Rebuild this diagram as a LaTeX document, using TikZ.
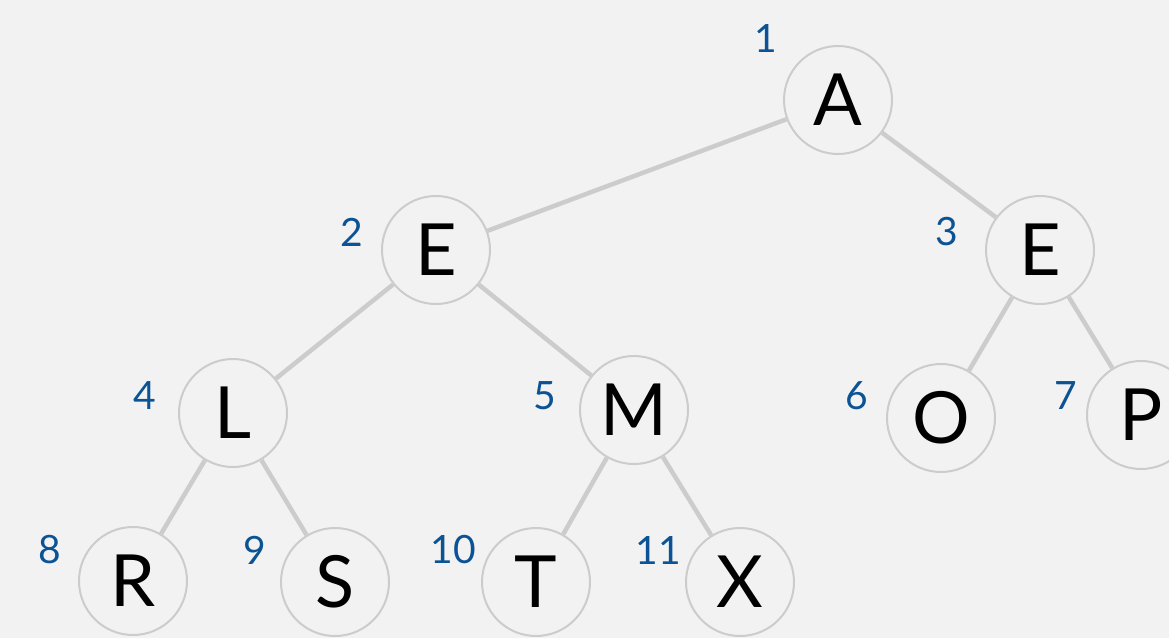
\documentclass[tikz,border=0pt]{standalone}
\usepackage{fontspec}
\setmainfont{Lato}
\usepackage{tikz}
\definecolor{bgc}{HTML}{F2F2F2}
\definecolor{linec}{HTML}{CCCCCC}
\definecolor{numc}{HTML}{0B5394}

\begin{document}
\begin{tikzpicture}[x=1pt, y=-1pt, every node/.style={circle, draw=linec, line width=2pt, minimum size=108pt, inner sep=0pt, font=\fontsize{72}{72}\selectfont}, every edge/.style={draw=linec, line width=4.5pt}, num/.style={draw=none, shape=rectangle, minimum size=0pt, text=numc, font=\fontsize{39}{39}\selectfont}]
			\fill[bgc] (0,0) rectangle (1169,638);
			\useasboundingbox (0,0) rectangle (1169,638);
			\node (a) at (838,100){A};
			\node (e2) at (436,250){E};
			\node (e3) at (1040,250){E};
			\node (l) at (233,413){L};
			\node (m) at (634,410){M};
			\node (o) at (941,418){O};
			\node (p) at (1141,415){P};
			\node (r) at (133,581){R};
			\node (s) at (335,582){S};
			\node (t) at (536,582){T};
			\node (x) at (740,582){X};
			
			\node[num] (n1) at (766,38){1};
			\node[num] (n2) at (352,232){2};
			\node[num] (n3) at (947,232){3};
			\node[num] (n4) at (145,396){4};
			\node[num] (n5) at (545,396){5};
			\node[num] (n6) at (857,396){6};
			\node[num] (n7) at (1066,396){7};
			\node[num] (n8) at (50,550){8};
			\node[num] (n9) at (255,550){9};
			\node[num] (n10) at (453,550){10};
			\node[num] (n11) at (658,550){11};
			
			\path (a) edge (e2);
			\path (a) edge (e3);
			\path (e2) edge (l);
			\path (e2) edge (m);
			\path (e3) edge (o);
			\path (e3) edge (p);
			\path (l) edge (r);
			\path (l) edge (s);
			\path (m) edge (t);
			\path (m) edge (x);
			\end{tikzpicture}
\end{document}
